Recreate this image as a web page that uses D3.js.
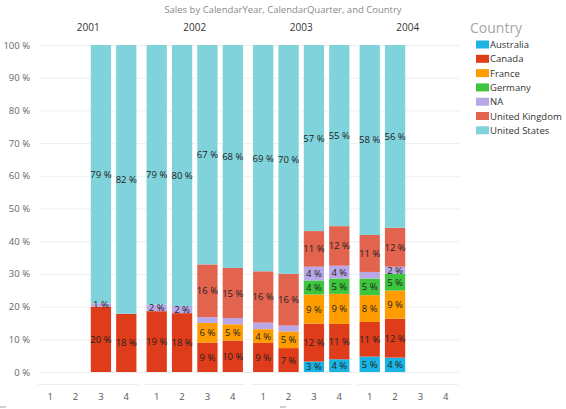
<!DOCTYPE html>
<html>
<head>
<meta charset="utf-8">
<script src="https://cdn.jsdelivr.net/npm/d3@7"></script>
<style>
  body { margin: 0; background: #fff; }
  svg { display: block; font-family: "Segoe UI", "Open Sans", "Noto Sans", sans-serif; }
</style>
</head>
<body>
<svg id="chart" width="566" height="409"></svg>
<script>
// data (percent of each quarter's sales)
var years = ["2001", "2002", "2003", "2004"];
var quarters = ["1", "2", "3", "4"];
var countries = ["Australia", "Canada", "France", "Germany", "NA", "United Kingdom", "United States"];
var colors = ["#1AB4E4", "#DF3C1B", "#FF9D00", "#3DC53D", "#B8A8E8", "#E2644F", "#80D3DB"];
var yTicks = [0, 10, 20, 30, 40, 50, 60, 70, 80, 90, 100];

// one row per quarter that has sales
var periods = ["2001-3", "2001-4", "2002-1", "2002-2", "2002-3", "2002-4",
               "2003-1", "2003-2", "2003-3", "2003-4", "2004-1", "2004-2"];
var australia = [0, 0, 0, 0, 0, 0, 0, 0, 3.2, 3.9, 4.7, 4.4];
var canada    = [20.0, 17.8, 18.6, 18.0, 9.0, 9.6, 8.9, 7.3, 11.6, 10.8, 10.6, 11.9];
var france    = [0, 0, 0, 0, 6.0, 5.0, 4.2, 5.1, 8.9, 9.2, 8.2, 8.6];
var germany   = [0, 0, 0, 0, 0, 0, 0, 0, 4.3, 4.7, 5.1, 5.2];
var na        = [1.0, 0, 2.0, 2.2, 1.8, 1.9, 2.0, 1.8, 4.2, 3.9, 2.0, 2.1];
var uk        = [0, 0, 0, 0, 16.1, 15.3, 15.7, 15.8, 10.9, 12.1, 11.3, 11.9];
var us        = [79.0, 82.2, 79.4, 79.8, 67.1, 68.2, 69.2, 70.0, 56.9, 55.4, 58.1, 55.9];
// labels the report left out because they crowd their neighbours
var hiddenLabels = ["2002-3|NA", "2002-4|NA", "2003-1|NA", "2003-2|NA", "2004-1|NA"];

var series = [australia, canada, france, germany, na, uk, us];

var rows = periods.map(function (p, i) {
    var r = { year: p.split("-")[0], quarter: p.split("-")[1], key: p };
    countries.forEach(function (c, j) { r[c] = series[j][i]; });
    return r;
});

var svg = d3.select("#chart");
var color = d3.scaleOrdinal().domain(countries).range(colors);

var x0 = d3.scaleBand().domain(years).range([35, 461]);
var x1 = d3.scaleBand().domain(quarters).range([0, x0.bandwidth()])
    .paddingInner(0.2).paddingOuter(0.2);
var y = d3.scaleLinear().domain([0, 100]).range([372, 45]);

// title
svg.append("text")
    .attr("x", 283).attr("y", 13)
    .attr("text-anchor", "middle")
    .attr("font-size", 9.5)
    .attr("fill", "#8a8a8a")
    .text("Sales by CalendarYear, CalendarQuarter, and Country");

// gridlines + y labels
svg.append("g").selectAll("line").data(yTicks).join("line")
    .attr("x1", 39).attr("x2", 460)
    .attr("y1", function (d) { return y(d) + 0.5; })
    .attr("y2", function (d) { return y(d) + 0.5; })
    .attr("stroke", "#efefef");
svg.append("g").selectAll("text").data(yTicks).join("text")
    .attr("x", 30).attr("y", function (d) { return y(d) + 3.5; })
    .attr("text-anchor", "end")
    .attr("font-size", 9.5)
    .attr("fill", "#666")
    .text(function (d) { return d + " %"; });

// year headers
svg.append("g").selectAll("text").data(years).join("text")
    .attr("x", function (d) { return x0(d) + x0.bandwidth() / 2; })
    .attr("y", 31)
    .attr("text-anchor", "middle")
    .attr("font-size", 10)
    .attr("fill", "#333")
    .text(function (d) { return d; });

// stacked bars
var stack = d3.stack().keys(countries);
var layers = stack(rows);

var barG = svg.append("g");
layers.forEach(function (layer) {
    var c = layer.key;
    barG.append("g").attr("fill", color(c))
        .selectAll("rect").data(layer.filter(function (d) { return d[1] - d[0] > 0; }))
        .join("rect")
        .attr("x", function (d) { return x0(d.data.year) + x1(d.data.quarter); })
        .attr("width", x1.bandwidth())
        .attr("y", function (d) { return y(d[1]); })
        .attr("height", function (d) { return y(d[0]) - y(d[1]); });
});

// data labels
var labels = [];
layers.forEach(function (layer) {
    layer.forEach(function (d) {
        var v = d[1] - d[0];
        if (v <= 0) return;
        if (hiddenLabels.indexOf(d.data.key + "|" + layer.key) >= 0) return;
        labels.push({ d: d, v: v });
    });
});
svg.append("g").selectAll("text").data(labels).join("text")
    .attr("x", function (l) { return x0(l.d.data.year) + x1(l.d.data.quarter) + x1.bandwidth() / 2; })
    .attr("y", function (l) { return (y(l.d[0]) + y(l.d[1])) / 2 + 3.5; })
    .attr("text-anchor", "middle")
    .attr("font-size", 9.5)
    .attr("fill", "#222")
    .text(function (l) { return Math.round(l.v) + " %"; });

// bottom separators and quarter labels
svg.append("g").selectAll("line").data(years).join("line")
    .attr("x1", function (d) { return x0(d) + 3; })
    .attr("x2", function (d) { return x0(d) + x0.bandwidth() - 3; })
    .attr("y1", 384.5).attr("y2", 384.5)
    .attr("stroke", "#eeeeee");
var qg = svg.append("g");
years.forEach(function (yr) {
    qg.append("g").selectAll("text").data(quarters).join("text")
        .attr("x", function (q) { return x0(yr) + x1(q) + x1.bandwidth() / 2; })
        .attr("y", 400)
        .attr("text-anchor", "middle")
        .attr("font-size", 9.5)
        .attr("fill", "#555")
        .text(function (q) { return q; });
});

// small scroll hints at bottom
svg.append("rect").attr("x", 0).attr("y", 406).attr("width", 6).attr("height", 2).attr("fill", "#d0d0d0");
svg.append("rect").attr("x", 280).attr("y", 406).attr("width", 6).attr("height", 2).attr("fill", "#d0d0d0");

// legend
var legend = svg.append("g");
legend.append("text")
    .attr("x", 470).attr("y", 33)
    .attr("font-size", 14)
    .attr("fill", "#a6a6a6")
    .text("Country");
var item = legend.selectAll("g.item").data(countries).join("g")
    .attr("class", "item")
    .attr("transform", function (d, i) { return "translate(476," + (44.5 + i * 14.3) + ")"; });
item.append("rect")
    .attr("x", 0).attr("y", -4)
    .attr("width", 13).attr("height", 8)
    .attr("fill", function (d) { return color(d); });
item.append("text")
    .attr("x", 14).attr("y", 3.5)
    .attr("font-size", 9.5)
    .attr("fill", "#333")
    .text(function (d) { return d; });
</script>
</body>
</html>
